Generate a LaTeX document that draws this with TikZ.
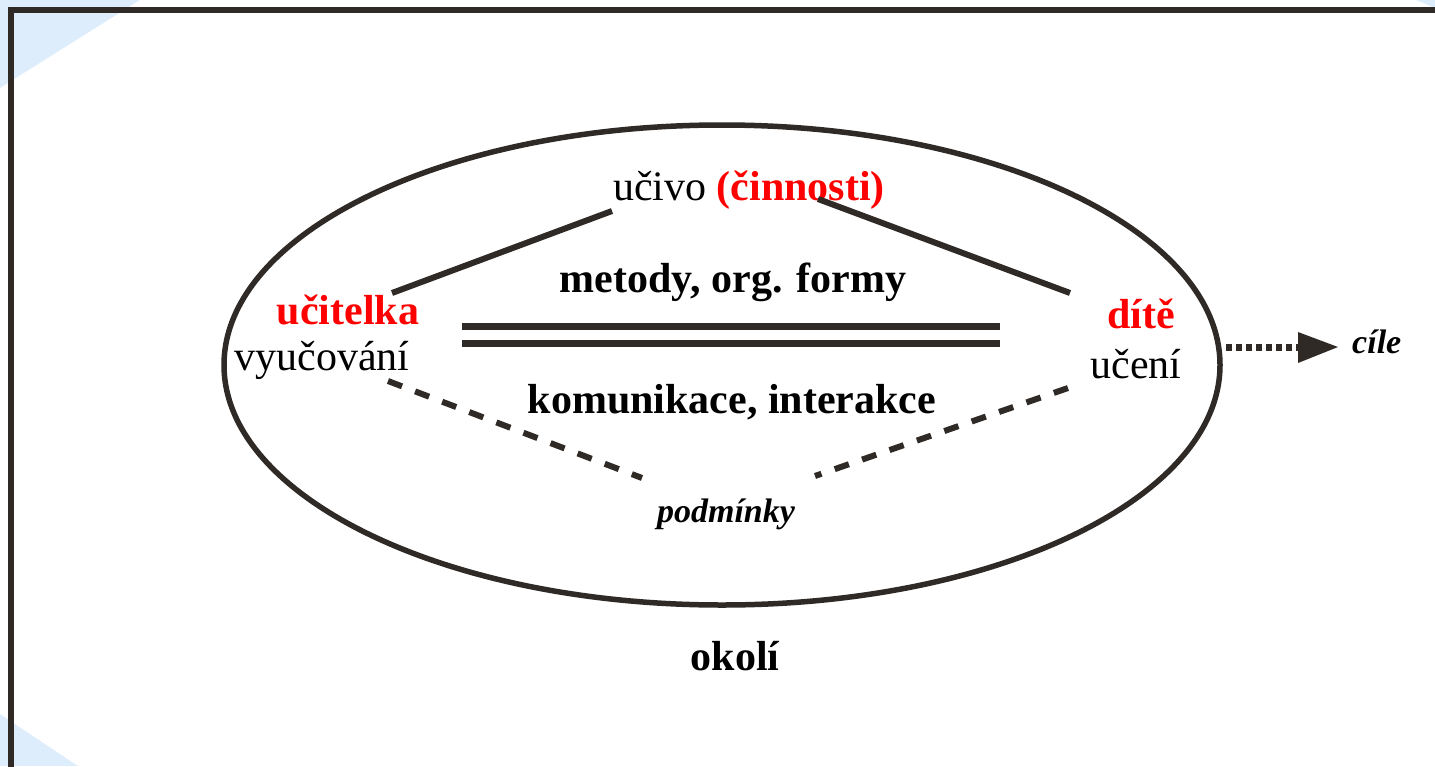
\documentclass[tikz,border=0pt]{standalone}
\usepackage{fontspec}
\setmainfont{Liberation Serif}
\usetikzlibrary{arrows.meta}
\definecolor{ink}{RGB}{47,42,38}
\definecolor{paleblue}{RGB}{221,237,251}
\definecolor{redtxt}{RGB}{255,0,0}
\tikzset{
  big/.style={font=\fontsize{42}{50}\selectfont, inner sep=0pt, anchor=base},
  bigb/.style={big, font=\fontsize{42}{50}\selectfont\bfseries},
  small/.style={font=\fontsize{34}{40}\selectfont\bfseries\itshape, inner sep=0pt, anchor=base},
  solidline/.style={draw=ink, line width=6pt},
  dashline/.style={draw=ink, line width=6pt, dash pattern=on 15pt off 14pt},
  dotline/.style={draw=ink, line width=7pt, dash pattern=on 6pt off 4pt},
  bar/.style={draw=ink, line width=7pt},
}
\begin{document}
\begin{tikzpicture}[x=1pt,y=-1pt]
\useasboundingbox (0,0) rectangle (1435,766);
% pale corners
\fill[paleblue] (0,0) -- (140,0) -- (0,88) -- cycle;
\fill[paleblue] (0,714) -- (78,766) -- (0,766) -- cycle;
\fill[paleblue] (1416,0) -- (1435,0) -- (1435,8) -- cycle;
% frame
\draw[ink, line width=6pt] (10.5,780) -- (10.5,10) -- (1450,10);
% ellipse
\draw[ink, line width=5.5pt] (722,365) ellipse [x radius=498, y radius=240];
% texts
\node[big] (ucivo) at (749,200) {učivo \textcolor{redtxt}{\bfseries(činnosti)}};
\node[bigb, text=redtxt] (ucitelka) at (348,324) {učitelka};
\node[big] (vyucovani) at (322,370) {vyučování};
\node[bigb, text=redtxt] (dite) at (1141,328) {dítě};
\node[big] (uceni) at (1136,378) {učení};
\node[bigb] (metody) at (733,292) {metody, org. formy};
\node[bigb] (komunikace) at (732,413) {komunikace, interakce};
\node[small] (podminky) at (726,522) {podmínky};
\node[bigb] (okoli) at (735,670) {okolí};
\node[small, anchor=base west] (cile) at (1352,353) {cíle};
% connector end points
\coordinate (l1) at (392,293);
\coordinate (l2) at (612,211);
\coordinate (r1) at (818,199);
\coordinate (r2) at (1070,293);
\coordinate (d1) at (388,381);
\coordinate (d2) at (642,478);
\coordinate (e1) at (815,476);
\coordinate (e2) at (1068,388);
\coordinate (b1) at (462,326);
\coordinate (b2) at (1000,326);
\coordinate (c1) at (462,343.5);
\coordinate (c2) at (1000,343.5);
\coordinate (a1) at (1226,347);
\coordinate (a2) at (1300,347);
\coordinate (tip) at (1338,347);
% connectors
\draw[solidline] (l1) -- (l2);
\draw[solidline] (r1) -- (r2);
\draw[dashline] (d1) -- (d2);
\draw[dashline] (e2) -- (e1);
\draw[bar] (b1) -- (b2);
\draw[bar] (c1) -- (c2);
\draw[dotline] (a1) -- (a2);
\fill[ink] (1298,332) -- (tip) -- (1298,363) -- cycle;
\end{tikzpicture}
\end{document}
